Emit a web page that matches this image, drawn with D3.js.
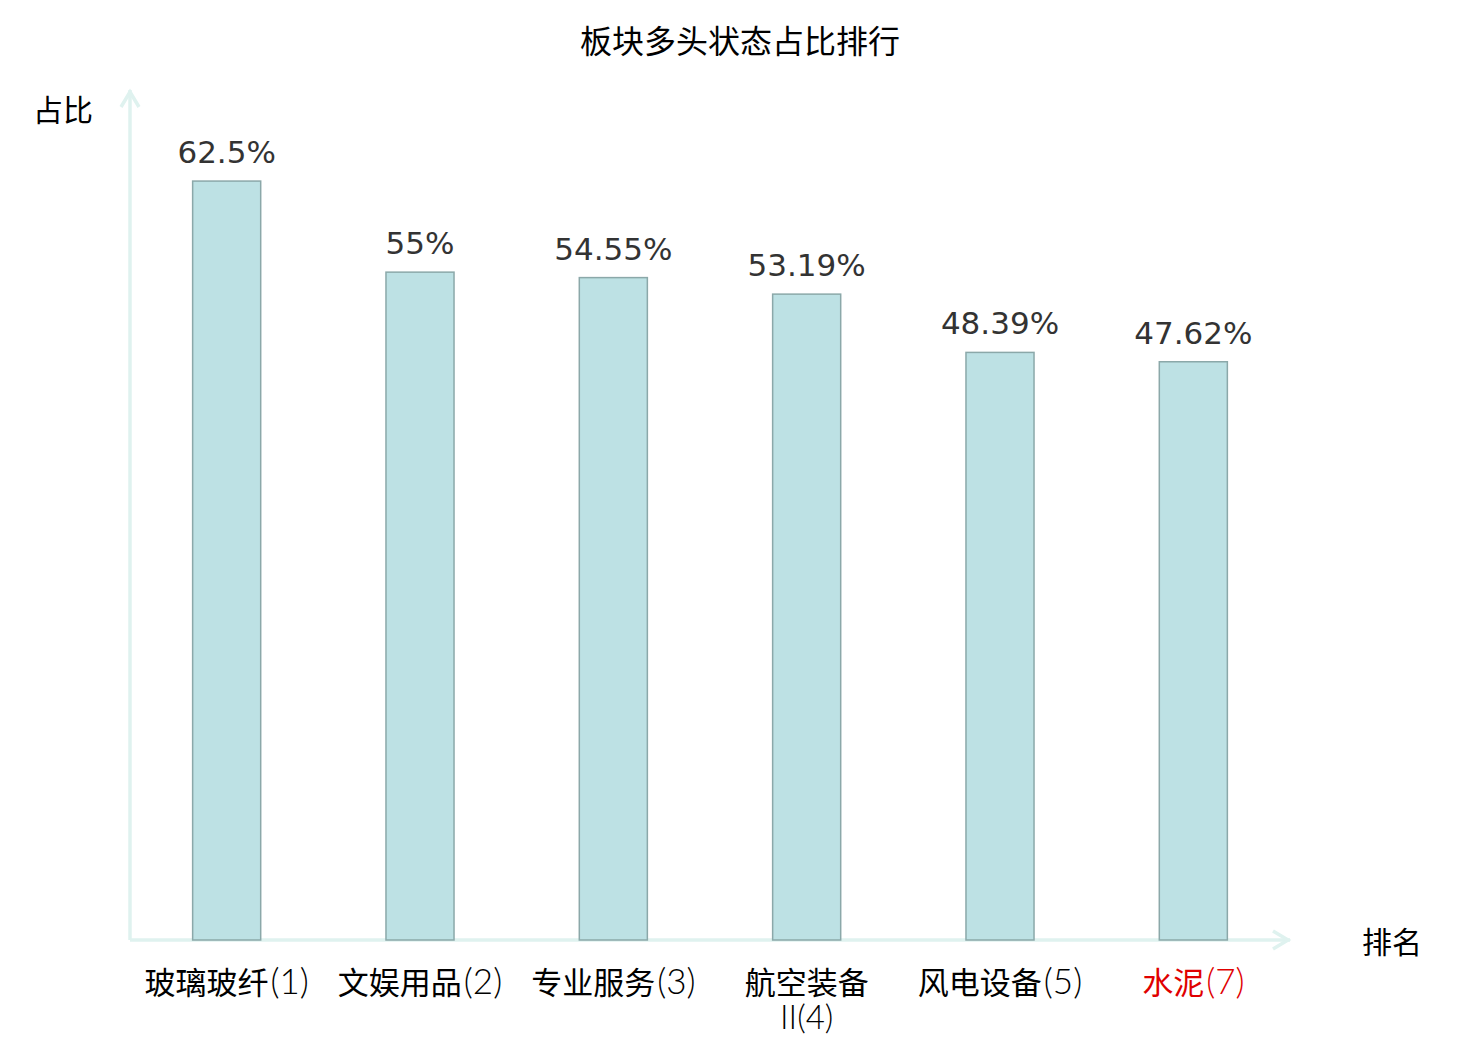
<!DOCTYPE html>
<html>
<head>
<meta charset="utf-8">
<script src="https://cdn.jsdelivr.net/npm/d3@7"></script>
<style>
  body { margin: 0; background: #fff; }
  text { font-family: "DejaVu Sans", "Noto Sans CJK SC", sans-serif; }
  text.cat { font-family: "Noto Sans CJK SC", sans-serif; }
  tspan.lat { font-family: "Lato", "Noto Sans CJK SC", sans-serif; font-weight: 300; }
</style>
</head>
<body>
<svg id="chart" width="1480" height="1040"></svg>
<script>
/* --- Data: --- */
var categories = ["玻璃玻纤(1)", "文娱用品(2)", "专业服务(3)", "航空装备II(4)", "风电设备(5)", "水泥(7)"];
var label_lines = [["玻璃玻纤(1)"], ["文娱用品(2)"], ["专业服务(3)"], ["航空装备", "II(4)"], ["风电设备(5)"], ["水泥(7)"]];
var values = [62.5, 55, 54.55, 53.19, 48.39, 47.62];
var value_labels = ["62.5%", "55%", "54.55%", "53.19%", "48.39%", "47.62%"];
var highlight = "水泥(7)";

/* --- Layout: --- */
var width = 1480;
var height = 1040;
var x0 = 130, x1 = 1290, y0 = 940, y1 = 90;
var axis_color = "#dff2ef";

var svg = d3.select("#chart");

var x = d3.scaleBand().domain(categories).range([x0, x1]).paddingInner(0.648).paddingOuter(0.324);
var y = d3.scaleLinear().domain([0, 70]).range([y0, y1]);

var data = categories.map((c, i) => ({cat: c, value: values[i], label: value_labels[i], lines: label_lines[i]}));

// title
svg.append("text")
  .attr("x", 740).attr("y", 53)
  .attr("text-anchor", "middle")
  .attr("font-size", 32)
  .attr("fill", "#000")
  .text("板块多头状态占比排行");

// axes
var ax = svg.append("g").attr("stroke", axis_color).attr("stroke-width", 3.5).attr("fill", "none");
ax.append("line").attr("x1", x0).attr("y1", y0).attr("x2", x0).attr("y2", y1);
ax.append("path").attr("d", `M${x0-9},${y1+17}L${x0},${y1+2}L${x0+9},${y1+17}`);
ax.append("line").attr("x1", x0).attr("y1", y0).attr("x2", x1).attr("y2", y0);
ax.append("path").attr("d", `M${x1-17},${y0-9}L${x1-2},${y0}L${x1-17},${y0+9}`);

svg.append("text").attr("x", 63).attr("y", 121).attr("text-anchor", "middle")
  .attr("font-size", 30).attr("fill", "#000").text("占比");
svg.append("text").attr("x", 1392).attr("y", 953).attr("text-anchor", "middle")
  .attr("font-size", 30).attr("fill", "#000").text("排名");

// bars
svg.append("g")
  .selectAll("rect")
  .data(data)
  .join("rect")
  .attr("x", d => x(d.cat))
  .attr("y", d => y(d.value))
  .attr("width", x.bandwidth())
  .attr("height", d => y(0) - y(d.value))
  .attr("fill", "#bde1e4")
  .attr("stroke", "#8ba8a9")
  .attr("stroke-width", 1.5);

// value labels
svg.append("g")
  .selectAll("text")
  .data(data)
  .join("text")
  .attr("x", d => x(d.cat) + x.bandwidth() / 2)
  .attr("y", d => y(d.value) - 18)
  .attr("text-anchor", "middle")
  .attr("font-size", 31)
  .attr("fill", "#333")
  .text(d => d.label);

// category labels: one <text> per line, chinese part regular, latin part light
data.forEach(function(d){
    let cx = x(d.cat) + x.bandwidth() / 2;
    d.lines.forEach(function(line, i){
        let m = line.match(/^([^A-Za-z0-9(]*)(.*)$/);
        let t = svg.append("text")
          .attr("class", "cat")
          .attr("x", cx)
          .attr("y", 994 + i * 35)
          .attr("text-anchor", "middle")
          .attr("font-size", 31)
          .attr("fill", d.cat == highlight ? "#e00000" : "#000");
        if(m[1]) t.append("tspan").text(m[1]);
        if(m[2]) t.append("tspan").attr("class", "lat").attr("font-size", m[1] ? 35 : 33).attr("dx", m[1] ? 2 : 0).text(m[2]);
    });
});
</script>
</body>
</html>
